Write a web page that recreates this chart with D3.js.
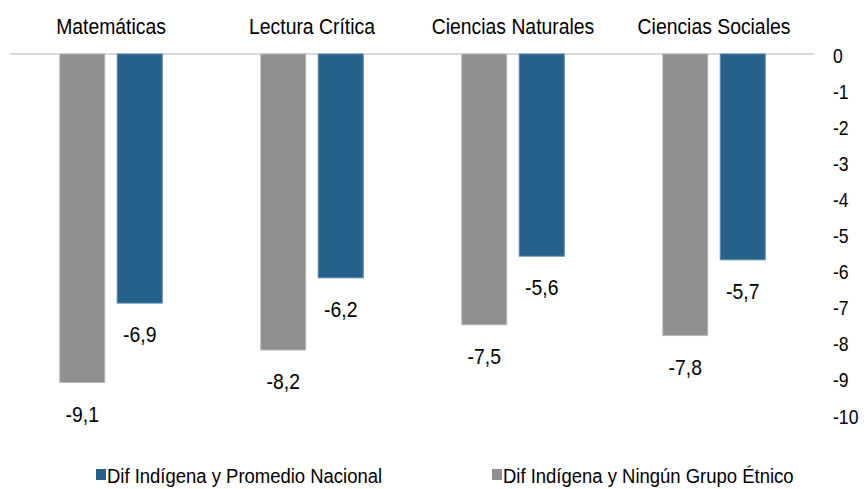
<!DOCTYPE html>
<html>
<head>
    <meta charset="utf-8">
    <title>Diferencias Indígena</title>
    <script src="https://cdn.jsdelivr.net/npm/d3@7/dist/d3.min.js"></script>
    <style>
        body { margin: 0; background: #fff; }
        svg text { font-family: "Liberation Sans Narrow", "Arial Narrow", "Liberation Sans", Arial, sans-serif; fill: #000; }
    </style>
</head>
<body>
    <div id="chart"></div>

    <script>
        // datos
        const categories = ["Matemáticas", "Lectura Crítica", "Ciencias Naturales", "Ciencias Sociales"];
        const difNingunGrupo = [-9.1, -8.2, -7.5, -7.8];
        const difPromedioNacional = [-6.9, -6.2, -5.6, -5.7];
        const seriesNames = ["Dif Indígena y Ningún Grupo Étnico", "Dif Indígena y Promedio Nacional"];
        const yTicks = [0, -1, -2, -3, -4, -5, -6, -7, -8, -9, -10];

        const W = 867, H = 489;
        const SX = 0.88; // la fuente del original es estrecha
        const colors = { [seriesNames[0]]: "#8f8f8f", [seriesNames[1]]: "#26608b" };
        const edges = { [seriesNames[0]]: "#b9b9b9", [seriesNames[1]]: "#5c87a8" };

        const svg = d3.select("#chart").append("svg")
            .attr("width", W).attr("height", H);

        const at = (x, y) => `translate(${x},${y}) scale(${SX},1)`;

        // escalas
        const x0 = d3.scaleBand().domain(categories).range([10.5, 814.5]);
        const x1 = d3.scaleBand().domain(seriesNames)
            .range([0, x0.bandwidth()])
            .paddingInner(0.217).paddingOuter(0.857);
        const y = d3.scaleLinear().domain([-10, 0]).range([415, 54]);

        const locale = d3.formatLocale({ decimal: ",", thousands: ".", grouping: [3], currency: ["$", ""], minus: "-" });
        const fmt = locale.format(".1f");

        // línea del cero
        svg.append("line")
            .attr("x1", x0.range()[0]).attr("x2", x0.range()[1])
            .attr("y1", y(0)).attr("y2", y(0))
            .attr("stroke", "#d9d9d9").attr("stroke-width", 2);

        // eje derecho (solo etiquetas)
        svg.append("g").selectAll("text")
            .data(yTicks).enter().append("text")
            .attr("transform", d => at(833, y(d) + 8.5))
            .attr("font-size", 20)
            .text(d => String(d));

        // etiquetas de categoría arriba
        svg.append("g").selectAll("text")
            .data(categories).enter().append("text")
            .attr("transform", d => at(x0(d) + x0.bandwidth() / 2, 34))
            .attr("text-anchor", "middle")
            .attr("font-size", 22)
            .text(d => d);

        const rows = categories.map((c, i) => ({
            cat: c,
            vals: [
                { s: seriesNames[0], v: difNingunGrupo[i] },
                { s: seriesNames[1], v: difPromedioNacional[i] }
            ]
        }));

        const groups = svg.append("g").selectAll("g")
            .data(rows).enter().append("g")
            .attr("transform", d => `translate(${x0(d.cat)},0)`);

        groups.selectAll("rect")
            .data(d => d.vals).enter().append("rect")
            .attr("x", d => x1(d.s))
            .attr("width", x1.bandwidth())
            .attr("y", y(0))
            .attr("height", d => y(d.v) - y(0))
            .attr("fill", d => colors[d.s])
            .attr("stroke", d => edges[d.s])
            .attr("stroke-width", 1);

        groups.selectAll("text")
            .data(d => d.vals).enter().append("text")
            .attr("transform", d => at(x1(d.s) + x1.bandwidth() / 2, y(d.v) + 39))
            .attr("text-anchor", "middle")
            .attr("font-size", 22)
            .text(d => fmt(d.v));

        // leyenda
        const legendItems = [
            { s: seriesNames[1], x: 96 },
            { s: seriesNames[0], x: 492 }
        ];
        const lg = svg.append("g").selectAll("g")
            .data(legendItems).enter().append("g")
            .attr("transform", d => `translate(${d.x},469)`);
        lg.append("rect")
            .attr("width", 10).attr("height", 11)
            .attr("fill", d => colors[d.s]);
        lg.append("text")
            .attr("transform", at(11, 14))
            .attr("font-size", 21)
            .text(d => d.s);
    </script>
</body>
</html>
